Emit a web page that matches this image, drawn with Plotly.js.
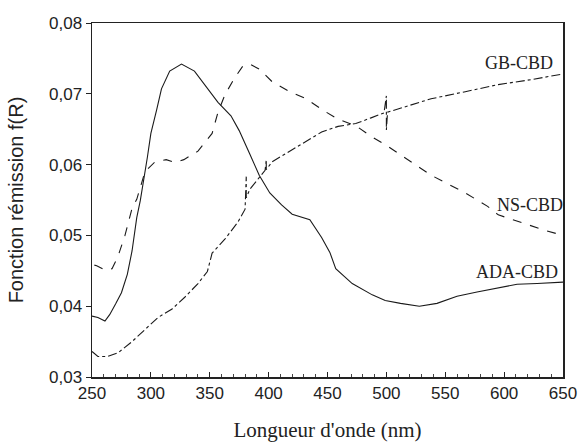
<!DOCTYPE html>
<html>
<head>
<meta charset="utf-8">
<script src="https://cdn.plot.ly/plotly-3.0.1.min.js"></script>
<style>html,body{margin:0;padding:0;background:#fff;}#chart{width:583px;height:442px;}</style>
</head>
<body>
<div id="chart"></div>
<script>
// Wavelength (nm) and remission function values
const adaX = [250,255,261,265,270,275,280,284,288,291,297,300,305,309,316,326,337,348,357,368,375,384,392,401,411,420,435,445,452,457,471,488,499,512,528,543,560,577,594,611,628,650];
const adaY = [0.0386,0.0384,0.0379,0.0388,0.0403,0.0419,0.0445,0.0478,0.0525,0.0549,0.0610,0.0644,0.0678,0.0707,0.0732,0.0742,0.0732,0.0707,0.0688,0.0669,0.0648,0.0615,0.0585,0.0560,0.0543,0.0530,0.0522,0.0497,0.0476,0.0453,0.0432,0.0416,0.0408,0.0404,0.0400,0.0404,0.0414,0.0420,0.0426,0.0431,0.0432,0.0434];

const nsX = [252,254,261,267,272,278,284,288,295,303,313,320,328,340,352,357,363,371,378,384,392,403,418,432,445,459,474,487,502,513,538,567,586,595,618,635,650];
const nsY = [0.0458,0.0457,0.0451,0.0453,0.0470,0.0500,0.0538,0.0551,0.0590,0.0603,0.0607,0.0603,0.0607,0.0619,0.0644,0.0674,0.0699,0.0722,0.0739,0.0742,0.0735,0.0717,0.0703,0.0693,0.0678,0.0664,0.0655,0.0640,0.0625,0.0613,0.0585,0.0560,0.0541,0.0529,0.0516,0.0507,0.0500];

const gbX = [250,255,263,272,284,295,306,318,329,340,348,352,363,374,380,381,381,384,392,397,398,398,403,418,432,445,459,474,487,498,500,500,501,513,538,567,595,623,650];
const gbY = [0.0336,0.0329,0.0329,0.0334,0.0350,0.0367,0.0384,0.0396,0.0413,0.0432,0.0449,0.0475,0.0495,0.0519,0.0537,0.0583,0.0553,0.0565,0.0581,0.0592,0.0607,0.0593,0.0604,0.0619,0.0633,0.0646,0.0654,0.0658,0.0666,0.0673,0.0697,0.0649,0.0674,0.0680,0.0693,0.0703,0.0713,0.0720,0.0728];

const seriesNames = ["ADA-CBD","NS-CBD","GB-CBD"];
const tickVals = [250,300,350,400,450,500,550,600,650];
const yTickVals = [0.03,0.04,0.05,0.06,0.07,0.08];
const yTickText = ["0,03","0,04","0,05","0,06","0,07","0,08"];

const lineCol = "#1a1a1a";
const traces = [
  {x: adaX, y: adaY, name: seriesNames[0], mode: "lines", line: {color: lineCol, width: 1.1, dash: "solid"}},
  {x: nsX, y: nsY, name: seriesNames[1], mode: "lines", line: {color: lineCol, width: 1.1, dash: "dash"}},
  {x: gbX, y: gbY, name: seriesNames[2], mode: "lines", line: {color: lineCol, width: 1.1, dash: "dashdot"}}
];

const labelFont = {family: "Liberation Serif, Times New Roman, serif", size: 18, color: "#222"};
const layout = {
  width: 583, height: 442,
  margin: {l: 92, r: 20, t: 23, b: 65},
  paper_bgcolor: "#fff", plot_bgcolor: "#fff",
  showlegend: false,
  xaxis: {
    range: [250, 650], tickvals: tickVals, ticktext: tickVals.map(String),
    showline: true, mirror: true, linecolor: "#222", linewidth: 1.5,
    ticks: "inside", ticklen: 5, tickcolor: "#222",
    minor: {ticks: "inside", ticklen: 3, dtick: 10, tickcolor: "#444"},
    showgrid: false, zeroline: false,
    tickfont: {family: "Liberation Sans, Arial, sans-serif", size: 17, color: "#222"},
    title: {text: "Longueur d'onde (nm)", font: {family: "Liberation Serif, Times New Roman, serif", size: 21, color: "#222"}, standoff: 22}
  },
  yaxis: {
    range: [0.03, 0.08], tickvals: yTickVals, ticktext: yTickText,
    showline: true, mirror: true, linecolor: "#222", linewidth: 1.5,
    ticks: "outside", ticklen: 5, tickcolor: "#222",
    showgrid: false, zeroline: false,
    tickfont: {family: "Liberation Sans, Arial, sans-serif", size: 17, color: "#222"},
    title: {text: "Fonction rémission f(R)", font: {family: "Liberation Sans, Arial, sans-serif", size: 20, color: "#222"}, standoff: 20}
  },
  annotations: [
    {x: 613, y: 0.0744, xref: "x", yref: "y", text: seriesNames[2], showarrow: false, font: labelFont},
    {x: 622, y: 0.0543, xref: "x", yref: "y", text: seriesNames[1], showarrow: false, font: labelFont},
    {x: 611, y: 0.0449, xref: "x", yref: "y", text: seriesNames[0], showarrow: false, font: labelFont}
  ]
};

Plotly.newPlot("chart", traces, layout, {displayModeBar: false, staticPlot: true});
</script>
</body>
</html>
